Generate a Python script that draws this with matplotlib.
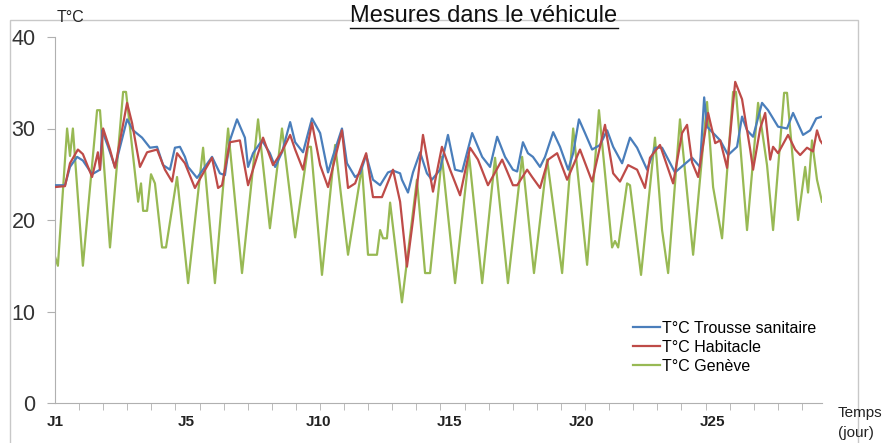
import matplotlib
matplotlib.use("Agg")
import matplotlib.pyplot as plt
from matplotlib.lines import Line2D
from matplotlib.patches import Rectangle

plt.rcParams['font.family'] = ['Liberation Sans', 'DejaVu Sans']

# temps en jours depuis J1, valeurs en degres
trousse_t = [0.00, 0.38, 0.57, 0.84, 1.06, 1.41, 1.71, 1.79, 2.02, 2.28, 2.74, 2.97, 3.31, 3.61,
             3.88, 4.11, 4.37, 4.56, 4.75, 4.94, 5.06, 5.40, 5.70, 5.97, 6.27, 6.46, 6.65, 6.92,
             7.22, 7.34, 7.53, 7.87, 8.17, 8.37, 8.63, 8.94, 9.13, 9.43, 9.77, 10.08, 10.38, 10.57,
             10.91, 11.10, 11.41, 11.60, 11.83, 12.09, 12.36, 12.66, 12.85, 13.12, 13.19, 13.42,
             13.61, 13.88, 14.14, 14.33, 14.64, 14.94, 15.21, 15.48, 15.86, 16.24, 16.54, 16.81,
             17.11, 17.41, 17.57, 17.79, 17.98, 18.17, 18.44, 18.63, 18.94, 19.20, 19.51, 19.70,
             19.92, 20.15, 20.42, 20.72, 20.99, 21.22, 21.56, 21.86, 22.13, 22.51, 22.81, 23.08,
             23.57, 24.22, 24.52, 24.68, 24.79, 25.29, 25.59, 25.93, 26.12, 26.31, 26.54, 26.88,
             27.11, 27.49, 27.83, 28.06, 28.44, 28.71, 28.94, 29.16]
trousse_v = [23.8, 23.8, 25.8, 26.9, 26.5, 25.0, 25.5, 29.8, 28.0, 25.8, 31.0, 29.8, 29.0, 27.9,
             28.0, 26.0, 25.5, 27.9, 28.0, 26.9, 25.8, 24.6, 25.8, 26.9, 25.1, 24.9, 28.7, 31.0,
             29.0, 25.8, 27.3, 28.7, 27.3, 25.8, 27.4, 30.7, 28.5, 27.4, 31.1, 29.5, 25.2, 27.0,
             30.0, 26.2, 24.7, 25.1, 27.1, 24.4, 23.8, 25.2, 25.4, 25.1, 24.4, 23.0,
             25.2, 27.4, 25.1, 24.4, 25.5, 29.3, 25.5, 25.3, 29.5, 26.9, 25.8, 29.1,
             26.9, 25.5, 25.3, 28.5, 27.3, 26.9, 25.8, 26.9, 29.6, 28.0, 25.5, 27.3,
             31.0, 29.5, 27.7, 28.2, 29.8, 28.0, 26.2, 29.0, 27.9, 25.5, 27.9, 27.9,
             25.2, 26.8, 25.8, 33.4, 30.2, 28.7, 27.1, 28.0, 31.3, 29.8, 29.1, 32.8,
             32.0, 30.2, 30.0, 31.7, 29.3, 29.8, 31.1, 31.3]

habitacle_t = [0.00, 0.38, 0.57, 0.87, 1.06, 1.41, 1.63, 1.71, 1.83, 2.09, 2.28, 2.74, 2.93, 3.23,
               3.50, 3.88, 4.18, 4.45, 4.64, 4.94, 5.32, 5.63, 5.97, 6.20, 6.35, 6.65, 7.03, 7.34,
               7.91, 8.29, 8.63, 8.94, 9.13, 9.43, 9.77, 10.08, 10.38, 10.91, 11.14, 11.41, 11.83,
               12.09, 12.43, 12.85, 13.12, 13.38, 13.61, 13.99, 14.37, 14.71, 15.02, 15.40, 15.78,
               16.08, 16.46, 17.00, 17.41, 17.57, 17.95, 18.14, 18.44, 18.75, 19.09, 19.47, 19.96,
               20.42, 20.91, 21.22, 21.48, 21.79, 22.13, 22.43, 22.62, 23.00, 23.50, 23.84, 24.03,
               24.22, 24.45, 24.83, 25.10, 25.29, 25.55, 25.86, 26.12, 26.43, 26.54, 26.81, 27.00,
               27.19, 27.30, 27.49, 27.87, 28.14, 28.33, 28.59, 28.82, 28.97, 29.09, 29.16]
habitacle_v = [23.6, 23.7, 26.2, 27.7, 27.2, 24.7, 27.4, 25.5, 30.0, 27.7, 25.7, 32.8, 30.6, 25.8,
               27.4, 27.7, 25.5, 24.2, 27.3, 26.2, 23.5, 25.1, 26.8, 23.5, 23.8, 28.5, 28.7, 23.8,
               29.0, 26.0, 27.5, 29.3, 27.7, 25.5, 30.6, 26.0, 23.6, 29.8, 23.5, 24.0, 27.3,
               22.5, 22.5, 25.5, 22.0, 14.9, 20.0, 29.3, 23.1, 28.0, 25.5, 22.7, 27.9,
               26.6, 23.8, 26.6, 23.8, 23.8, 25.5, 24.7, 23.5, 26.6, 27.3, 24.4, 27.7,
               24.2, 30.4, 25.1, 24.2, 26.0, 25.5, 23.5, 26.8, 28.2, 24.0, 29.5, 30.4,
               26.3, 24.7, 31.7, 28.4, 28.7, 25.7, 35.1, 33.2, 27.7, 25.5, 30.0, 31.7,
               26.6, 28.0, 27.3, 29.3, 27.7, 27.1, 27.9, 27.5, 29.8, 28.7, 28.4]

geneve_t = [0.00, 0.11, 0.46, 0.57, 0.68, 1.06, 1.60, 1.71, 2.09, 2.59, 2.70, 3.16, 3.27, 3.35,
            3.50, 3.65, 3.80, 4.07, 4.22, 4.64, 5.06, 5.63, 6.08, 6.58, 7.11, 7.72, 8.17, 8.63,
            9.13, 9.62, 9.73, 10.15, 10.65, 11.14, 11.67, 11.90, 12.24, 12.36, 12.47, 12.62, 12.74,
            13.19, 13.76, 14.07, 14.26, 14.71, 15.21, 15.74, 16.24, 16.73, 17.22, 17.76, 18.21,
            18.71, 19.28, 19.70, 20.23, 20.68, 21.18, 21.29, 21.41, 21.75, 21.86, 22.28, 22.81,
            23.08, 23.31, 23.76, 24.26, 24.79, 25.02, 25.36, 25.78, 25.89, 26.31, 26.73, 27.07,
            27.30, 27.72, 27.83, 28.25, 28.52, 28.63, 28.78, 28.97, 29.16]
geneve_v = [16.0, 15.0, 30.0, 27.0, 30.0, 15.0, 32.0, 32.0, 17.0, 34.0, 34.0, 22.0, 24.0, 21.0,
            21.0, 25.0, 24.0, 17.0, 17.0, 24.7, 13.1, 27.9, 13.1, 30.0, 14.2, 31.0, 19.1, 30.0,
            18.1, 28.0, 28.0, 14.0, 28.2, 16.2, 25.8, 16.2, 16.2, 18.9, 18.0, 18.0, 21.9,
            11.0, 24.4, 14.2, 14.2, 26.9, 13.1, 27.1, 13.1, 26.8, 13.1, 26.9, 14.2,
            26.6, 14.2, 30.0, 15.1, 32.0, 17.0, 17.7, 17.0, 24.0, 23.8, 14.0, 29.0,
            18.9, 14.2, 31.0, 16.2, 32.9, 23.6, 18.0, 34.0, 34.0, 18.9, 32.8, 26.0,
            18.9, 33.9, 33.9, 20.0, 25.8, 23.0, 28.7, 24.4, 22.0]

jour_pos = [0, 5, 10, 15, 20, 25]
jour_lab = ['J1', 'J5', 'J10', 'J15', 'J20', 'J25']

fig = plt.figure(figsize=(8.87, 4.43), dpi=100)
fig.patches.append(Rectangle((10 / 887, -0.1), 848 / 887, 1.1 - 20 / 443, transform=fig.transFigure,
                             fill=False, edgecolor='#c8c8c8', linewidth=1.0))
ax = fig.add_axes([55 / 887, 1 - 403 / 443, 767 / 887, 366 / 443])

ax.plot(trousse_t, trousse_v, color='#4a7ebb', lw=1.6, label='T°C Trousse sanitaire', zorder=3,
        solid_joinstyle='round')
ax.plot(habitacle_t, habitacle_v, color='#be4b48', lw=1.6, label='T°C Habitacle', zorder=4,
        solid_joinstyle='round')
ax.plot(geneve_t, geneve_v, color='#98b954', lw=1.6, label='T°C Genève', zorder=2,
        solid_joinstyle='round')

ax.set_xlim(0, 29.16)
ax.set_ylim(0, 40)
ax.set_yticks([0, 10, 20, 30, 40])
ax.set_xticks(jour_pos)
ax.set_xticklabels(jour_lab, fontsize=11, fontweight='bold', color='#222222')
ax.set_xticks([i * 0.916 for i in range(32)], minor=True)
ax.tick_params(axis='x', which='major', length=0, pad=9)
ax.tick_params(axis='x', which='minor', length=5, color='#b0b0b0', direction='out')
ax.tick_params(axis='y', length=6, color='#b0b0b0', labelsize=15.5, labelcolor='#333333', pad=8)
for s in ['top', 'right']:
    ax.spines[s].set_visible(False)
for s in ['left', 'bottom']:
    ax.spines[s].set_color('#b0b0b0')

ax.legend(loc='upper left', bbox_to_anchor=((633 - 55) / 767, (403 - 321) / 366), frameon=False,
          fontsize=11.5, handlelength=1.7, handletextpad=0.1, labelspacing=0.25,
          borderaxespad=0, borderpad=0)

fig.text(57 / 887, 1 - 17 / 443, 'T°C', fontsize=11.5, ha='left', va='center', color='#222222')
fig.text(838 / 887, 1 - 413 / 443, 'Temps', fontsize=11, ha='left', va='center', color='#222222')
fig.text(838 / 887, 1 - 433 / 443, '(jour)', fontsize=11, ha='left', va='center', color='#222222')

title = fig.text(484 / 887, 1 - 16 / 443, 'Mesures dans le véhicule', fontsize=17,
                 ha='center', va='center', color='#111111')
fig.canvas.draw()
bb = title.get_window_extent(fig.canvas.get_renderer()).transformed(fig.transFigure.inverted())
fig.add_artist(Line2D([bb.x0, bb.x1], [bb.y0 - 0.002, bb.y0 - 0.002], transform=fig.transFigure,
                      color='#111111', lw=1.0))

fig.savefig('out.png', dpi=100)
